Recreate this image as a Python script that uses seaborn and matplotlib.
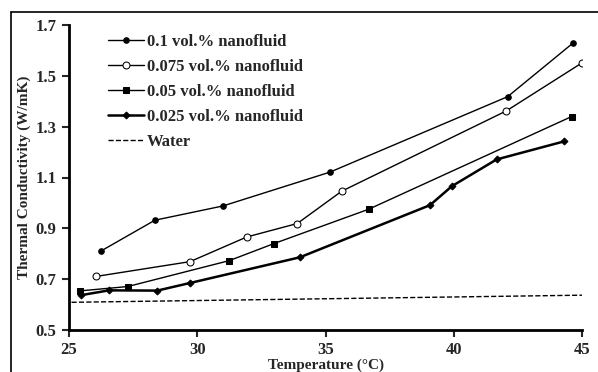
import pandas as pd
import matplotlib.pyplot as plt
import seaborn as sns
from matplotlib.lines import Line2D

# Data
temp_01 = [26.25, 28.35, 31.0, 35.17, 42.1, 44.65]
k_01 = [0.811, 0.932, 0.988, 1.121, 1.418, 1.629]

temp_0075 = [26.07, 29.72, 31.93, 33.9, 35.63, 42.05, 45.0]
k_0075 = [0.711, 0.769, 0.866, 0.919, 1.046, 1.362, 1.551]

temp_005 = [25.44, 27.29, 31.25, 32.99, 36.68, 44.6]
k_005 = [0.654, 0.671, 0.773, 0.840, 0.975, 1.340]

temp_0025 = [25.47, 26.56, 28.44, 29.72, 34.0, 39.07, 39.93, 41.67, 44.3]
k_0025 = [0.637, 0.656, 0.655, 0.685, 0.786, 0.991, 1.066, 1.171, 1.242]

temp_water = [25.1, 45.0]
k_water = [0.609, 0.637]

labels = ["0.1 vol.% nanofluid", "0.075 vol.% nanofluid", "0.05 vol.% nanofluid",
          "0.025 vol.% nanofluid", "Water"]

sns.set_style("ticks")
plt.rcParams['font.family'] = ['Liberation Serif', 'DejaVu Serif']
plt.rcParams['font.weight'] = 'bold'

fig = plt.figure(figsize=(5.98, 3.72), dpi=100)
ax = fig.add_axes([69 / 598, 1 - 330 / 372, (582 - 69) / 598, (330 - 25) / 372])

series = [
    (temp_01, k_01, dict(marker='o', markersize=4, markerfacecolor='black', linewidth=1.0, linestyle='-')),
    (temp_0075, k_0075, dict(marker='o', markersize=5, markerfacecolor='white', linewidth=1.0, linestyle='-')),
    (temp_005, k_005, dict(marker='s', markersize=4, markerfacecolor='black', linewidth=1.0, linestyle='-')),
    (temp_0025, k_0025, dict(marker='D', markersize=3.5, markerfacecolor='black', linewidth=1.8, linestyle='-')),
    (temp_water, k_water, dict(marker=None, linewidth=1.0, linestyle='--')),
]

for (x, y, style), label in zip(series, labels):
    df = pd.DataFrame({"T": x, "k": y})
    sns.lineplot(data=df, x="T", y="k", ax=ax, color='black', sort=False,
                 markeredgecolor='black', label=label, **style)

ax.set_xlim(25, 45)
ax.set_ylim(0.5, 1.7)
ax.set_xticks([25, 30, 35, 40, 45])
ax.set_yticks([0.5, 0.7, 0.9, 1.1, 1.3, 1.5, 1.7])
ax.set_yticklabels(["0.5", "0.7", "0.9", "1.1", "1.3", "1.5", "1.7"])
ax.tick_params(axis='both', labelsize=12, width=1.5, length=5, direction='out', pad=4)
for lab in ax.get_xticklabels() + ax.get_yticklabels():
    lab.set_fontweight('bold')

for side in ['top', 'right']:
    ax.spines[side].set_visible(False)
for side in ['left', 'bottom']:
    ax.spines[side].set_linewidth(2)
    ax.spines[side].set_color('black')

ax.set_xlabel("Temperature (°C)", fontsize=11, fontweight='bold', labelpad=0)
ax.set_ylabel("Thermal Conductivity (W/mK)", fontsize=11, fontweight='bold', labelpad=3)

leg = ax.legend(loc='upper left', bbox_to_anchor=(0.046, 1.02), frameon=False,
                handlelength=2.2, labelspacing=0.54, handletextpad=0.15,
                prop={'weight': 'bold', 'size': 12})

# frame lines at the top and left of the picture
fig.add_artist(Line2D([11 / 598, 11 / 598], [0, 1 - 12 / 372], color='black', linewidth=1.2))
fig.add_artist(Line2D([11 / 598, 1], [1 - 12 / 372, 1 - 12 / 372], color='black', linewidth=1.2))

fig.savefig("out.png", dpi=100)
